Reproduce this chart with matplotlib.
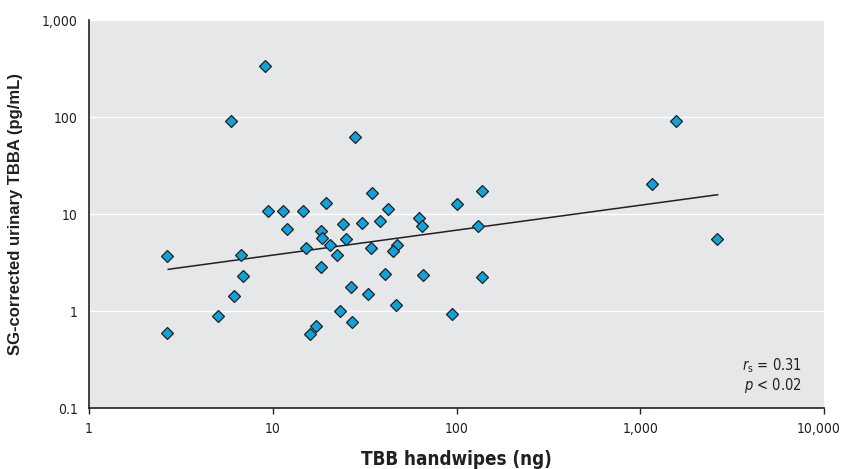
import matplotlib
matplotlib.use("Agg")
import matplotlib.pyplot as plt
from matplotlib.ticker import FixedLocator, FixedFormatter, NullLocator

# data (TBB handwipes ng vs SG-corrected urinary TBBA pg/mL)
tbb_handwipes = [9.07, 5.92, 9.42, 11.4, 11.9, 2.67, 6.74, 6.93, 6.14, 5.05, 2.67,
                 27.9, 14.7, 19.4, 34.9, 42.4, 100.9, 137, 62.6, 65.0, 131,
                 18.4, 24.2, 30.5, 38.2, 18.5, 24.9, 20.4, 15.2, 22.3, 34.4,
                 47.7, 45.2, 18.4, 40.7, 65.9, 137, 26.5, 32.9, 47.1, 23.1,
                 94.8, 27.0, 17.2, 15.9, 1561, 1159, 2602]
urinary_tbba = [335, 90, 10.7, 10.7, 7.0, 3.68, 3.79, 2.30, 1.43, 0.885, 0.597,
                61.7, 10.7, 12.9, 16.3, 11.3, 12.6, 17.2, 9.16, 7.48, 7.58,
                6.75, 7.89, 8.04, 8.47, 5.64, 5.50, 4.81, 4.45, 3.79, 4.51,
                4.84, 4.18, 2.86, 2.43, 2.35, 2.22, 1.75, 1.50, 1.15, 1.01,
                0.935, 0.767, 0.694, 0.583, 90, 20.2, 5.50]
fit_x = [2.7, 2635]
fit_y = [2.69, 15.8]

x_ticks = [1, 10, 100, 1000, 10000]
x_tick_labels = ["1", "10", "100", "1,000", "10,000"]
y_ticks = [0.1, 1, 10, 100, 1000]
y_tick_labels = ["0.1", "1", "10", "100", "1,000"]

plt.rcParams["font.family"] = ["DejaVu Sans"]
plt.rcParams["font.stretch"] = "condensed"

fig = plt.figure(figsize=(8.43, 4.69), dpi=100)
ax = fig.add_axes([89/843, 1 - 408/469, (824 - 89)/843, (408 - 20)/469])
ax.set_facecolor("#e6e7e8")
ax.set_xscale("log")
ax.set_yscale("log")
ax.set_xlim(1, 10000)
ax.set_ylim(0.1, 1000)

for yt in y_ticks[1:]:
    ax.axhline(yt, color="white", lw=1.0, zorder=1)

ax.plot(fit_x, fit_y, color="#231f20", lw=1.1, zorder=2)
ax.plot(tbb_handwipes, urinary_tbba, linestyle="none", marker="D", ms=6.5,
        markerfacecolor="#0fa3dd", markeredgecolor="#231f20", markeredgewidth=0.9,
        zorder=3)

ax.xaxis.set_major_locator(FixedLocator(x_ticks))
ax.xaxis.set_major_formatter(FixedFormatter(x_tick_labels))
ax.xaxis.set_minor_locator(NullLocator())
ax.yaxis.set_major_locator(FixedLocator(y_ticks))
ax.yaxis.set_major_formatter(FixedFormatter(y_tick_labels))
ax.yaxis.set_minor_locator(NullLocator())

for s in ["top", "right"]:
    ax.spines[s].set_visible(False)
for s in ["left", "bottom"]:
    ax.spines[s].set_color("#231f20")
    ax.spines[s].set_linewidth(1.2)

ax.tick_params(axis="x", length=4, width=1, color="#231f20", labelsize=10,
               labelcolor="#231f20", pad=6)
ax.tick_params(axis="y", length=0, labelsize=10, labelcolor="#231f20", pad=8)
# keep the last x tick label inside the figure
ax.get_xticklabels()[-1].set_horizontalalignment("right")
ax.get_xticklabels()[-1].set_x(10000)
from matplotlib.transforms import ScaledTranslation
lab = ax.get_xticklabels()[-1]
lab.set_transform(lab.get_transform() + ScaledTranslation(17/100, 0, fig.dpi_scale_trans))

ax.set_xlabel("TBB handwipes (ng)", fontsize=13.5, fontweight="bold",
              color="#231f20", labelpad=10)
ax.set_ylabel("SG-corrected urinary TBBA (pg/mL)", fontsize=12, fontweight="bold",
              family=["Liberation Sans", "DejaVu Sans"], fontstretch="normal",
              color="#231f20", labelpad=14)

ax.text(0.97, 0.110, r"$\it{r}_{\rm s}$ = 0.31", transform=ax.transAxes,
        ha="right", va="center", fontsize=10.5, color="#231f20")
ax.text(0.97, 0.059, r"$\it{p}$ < 0.02", transform=ax.transAxes,
        ha="right", va="center", fontsize=10.5, color="#231f20")

fig.savefig("out.png", dpi=100)
